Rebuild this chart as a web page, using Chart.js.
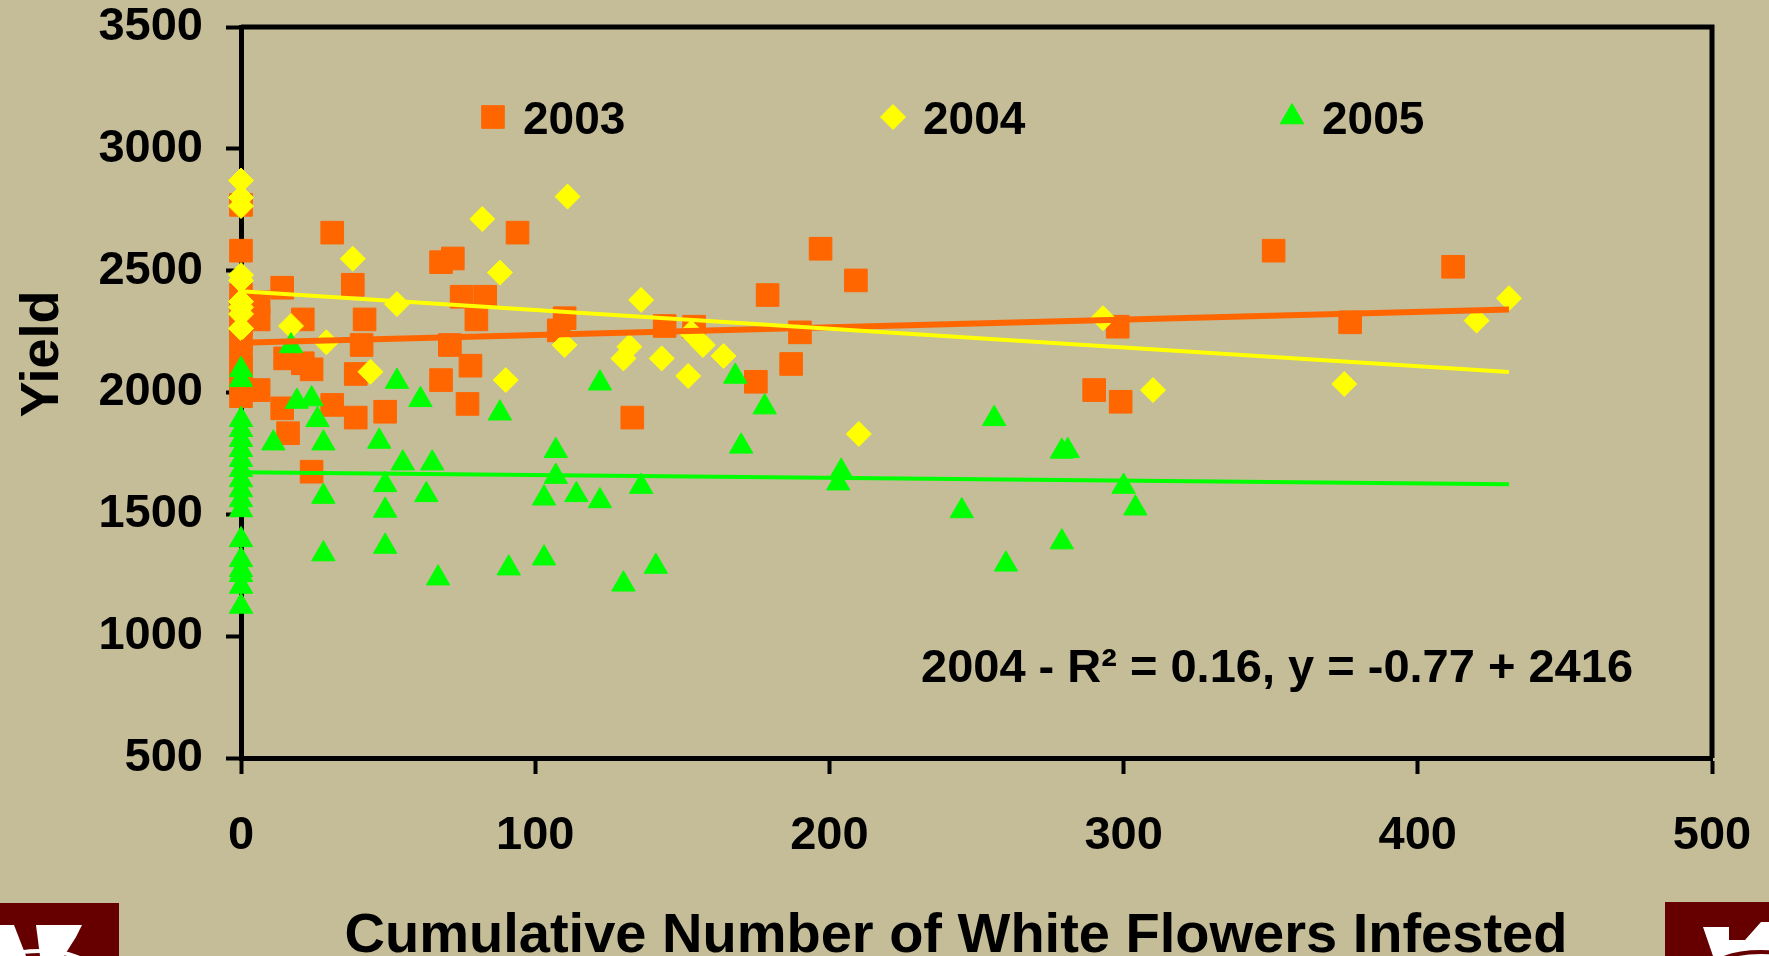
<!DOCTYPE html>
<html>
<head>
<meta charset="utf-8">
<script src="https://cdn.jsdelivr.net/npm/chart.js@4.4.1/dist/chart.umd.min.js"></script>
<style>
  html, body { margin: 0; padding: 0; background: #C4BD98; overflow: hidden; }
  #wrap { position: relative; width: 1769px; height: 956px; }
  #grafico { position: absolute; left: 0; top: 0; }
  .logo { position: absolute; background: #660000; overflow: hidden; }
</style>
</head>
<body>
<div id="wrap">
  <canvas id="grafico" width="1769" height="956"></canvas>
  <div class="logo" style="left:0;top:903px;width:119px;height:53px;">
    <svg width="119" height="53">
      <polygon points="0,22 14,22 26,53 0,53" fill="#fff"/>
      <polygon points="36,22 82,22 76,34 64,53 40,53" fill="#fff"/>
      <ellipse cx="40" cy="68" rx="52" ry="20" fill="none" stroke="#fff" stroke-width="4"/>
    </svg>
  </div>
  <div class="logo" style="left:1665px;top:902px;width:104px;height:54px;">
    <svg width="104" height="54">
      <polygon points="38,25 64,25 64,38 80,38 96,20 104,20 104,54 48,54" fill="#fff"/>
      <ellipse cx="96" cy="70" rx="52" ry="20" fill="none" stroke="#660000" stroke-width="4"/>
    </svg>
  </div>
</div>
<script>
// Datos: Yield vs flores blancas infestadas
const series = ['2003', '2004', '2005'];

const x2003 = [0, 0, 0, 0, 0, 0, 0, 0, 0, 0, 6, 6, 6, 14, 14, 15, 16, 21, 21, 24, 24, 31, 31,
  38, 39, 39, 41, 42, 49, 68, 72, 68, 71, 75, 83, 80, 78, 77, 94, 110, 108, 133, 144, 154,
  175, 179, 187, 190, 197, 209, 290, 298, 299, 351, 377, 412];
const y2003 = [2770, 2582, 2400, 2340, 2280, 2220, 2160, 2100, 2060, 1985, 2370, 2300, 2010,
  2430, 1935, 2140, 1833, 2300, 2120, 2095, 1675, 2656, 1949, 2442, 2076, 1897, 2195, 2300,
  1921, 2535, 2550, 2051, 2195, 2393, 2393, 2300, 2110, 1953, 2656, 2305, 2255, 1897, 2273,
  2270, 2044, 2400, 2117, 2247, 2590, 2460, 2010, 2270, 1962, 2582, 2288, 2516];

const x2004 = [0, 0, 0, 0, 0, 0, 0, 0, 0, 17, 29, 38, 44, 53, 82, 88, 90, 110, 111, 130, 132,
  136, 143, 152, 153, 157, 164, 210, 293, 310, 375, 420, 431];
const y2004 = [2870, 2800, 2765, 2482, 2460, 2373, 2350, 2322, 2263, 2273, 2206, 2549, 2085,
  2363, 2712, 2492, 2051, 2195, 2804, 2140, 2188, 2380, 2140, 2068, 2245, 2195, 2150, 1830,
  2305, 2010, 2035, 2295, 2387];

const x2005 = [0, 0, 0, 0, 0, 0, 0, 0, 0, 0, 0, 0, 0, 0, 0, 0, 0, 0, 11, 17, 19, 24, 26, 28,
  28, 28, 47, 49, 49, 49, 53, 55, 61, 63, 65, 67, 88, 91, 103, 103, 107, 107, 114, 122, 122,
  130, 136, 141, 168, 170, 178, 203, 204, 245, 256, 260, 279, 281, 279, 300, 304];
const y2005 = [2093, 2052, 1888, 1847, 1806, 1765, 1724, 1683, 1641, 1600, 1559, 1518, 1395,
  1313, 1272, 1252, 1204, 1122, 1792, 2191, 1963, 1973, 1888, 1792, 1573, 1337, 1799, 1621,
  1516, 1368, 2045, 1710, 1970, 1580, 1710, 1238, 1915, 1279, 1566, 1320, 1761, 1655, 1580,
  2038, 1555, 1213, 1614, 1286, 2066, 1779, 1940, 1628, 1676, 1514, 1892, 1295, 1758, 1761,
  1386, 1614, 1525];

// lineas de tendencia (extremos)
const trendX = [0, 431];
const trend2003 = [2204, 2341];
const trend2004 = [2416, 2084];
const trend2005 = [1673, 1623];

const xTicks = [0, 100, 200, 300, 400, 500];
const yTicks = [500, 1000, 1500, 2000, 2500, 3000, 3500];

const colores = ['#FF6600', '#FFFF00', '#00FF00'];
const estilos = ['rect', 'rectRot', 'triangle'];
const radios = [16, 12.5, 13.5];
const anchoTendencia = [6, 4, 4];

const fuente = '"Liberation Sans", Arial, sans-serif';

function puntos(xs, ys) {
  return xs.map((x, i) => ({ x: x, y: ys[i] }));
}

const marcas = [puntos(x2003, y2003), puntos(x2004, y2004), puntos(x2005, y2005)];
const tendencias = [trend2003, trend2004, trend2005];

const datasets = [];
series.forEach((s, i) => {
  datasets.push({
    label: s,
    data: marcas[i],
    pointStyle: estilos[i],
    pointRadius: radios[i],
    backgroundColor: colores[i],
    borderColor: colores[i],
    borderWidth: 1,
    clip: false,
    order: 6 - i
  });
});
series.forEach((s, i) => {
  datasets.push({
    type: 'line',
    label: 'tend ' + s,
    data: puntos(trendX, tendencias[i]),
    showLine: true,
    pointRadius: 0,
    borderColor: colores[i],
    borderWidth: anchoTendencia[i],
    fill: false,
    clip: false,
    order: 3 - i
  });
});

// marco superior y derecho
const marco = {
  id: 'marco',
  beforeDatasetsDraw(chart) {
    const { ctx, chartArea: a } = chart;
    ctx.save();
    ctx.strokeStyle = '#000';
    ctx.lineWidth = 5;
    ctx.beginPath();
    ctx.moveTo(a.left, a.top);
    ctx.lineTo(a.right, a.top);
    ctx.lineTo(a.right, a.bottom);
    ctx.stroke();
    ctx.restore();
  }
};

// leyenda dentro del area, titulos y anotacion
const leyendaX = [493, 893, 1292];
const textos = {
  id: 'textos',
  afterDraw(chart) {
    const ctx = chart.ctx;
    ctx.save();
    ctx.fillStyle = '#000';

    series.forEach((s, i) => {
      ctx.save();
      ctx.fillStyle = colores[i];
      ctx.strokeStyle = colores[i];
      Chart.helpers.drawPoint(ctx, { pointStyle: estilos[i], radius: radios[i], rotation: 0, borderWidth: 1 }, leyendaX[i], 117);
      ctx.restore();
      ctx.font = 'bold 46px ' + fuente;
      ctx.textAlign = 'left';
      ctx.textBaseline = 'alphabetic';
      ctx.fillText(s, leyendaX[i] + 30, 134);
    });

    ctx.font = 'bold 47px ' + fuente;
    ctx.textAlign = 'left';
    ctx.fillText('2004 - R\u00B2 = 0.16, y = -0.77 + 2416', 921, 682);

    ctx.font = 'bold 56px ' + fuente;
    ctx.textAlign = 'center';
    ctx.fillText('Cumulative Number of White Flowers Infested', 956, 952);

    ctx.translate(58, 354);
    ctx.rotate(-Math.PI / 2);
    ctx.font = 'bold 54px ' + fuente;
    ctx.fillText('Yield', 0, 0);
    ctx.restore();
  }
};

const ctx = document.getElementById('grafico').getContext('2d');
const myChart = new Chart(ctx, {
  type: 'scatter',
  data: { datasets: datasets },
  plugins: [marco, textos],
  options: {
    responsive: false,
    animation: false,
    events: [],
    layout: { padding: { top: 27, right: 57, left: 0, bottom: 0 } },
    plugins: { legend: { display: false }, tooltip: { enabled: false } },
    scales: {
      x: {
        type: 'linear',
        min: 0,
        max: 500,
        afterFit(scale) {
          scale.height = 198;
          scale.paddingLeft = 0;
          scale.paddingRight = 0;
        },
        afterBuildTicks(scale) { scale.ticks = xTicks.map(v => ({ value: v })); },
        grid: { drawOnChartArea: false, drawTicks: true, tickLength: 16, tickWidth: 4, color: '#000' },
        border: { display: true, color: '#000', width: 5 },
        ticks: {
          color: '#000',
          padding: 39,
          maxRotation: 0,
          font: { family: fuente, size: 47, weight: 'bold', lineHeight: 1 },
          callback: v => String(v)
        }
      },
      y: {
        type: 'linear',
        min: 500,
        max: 3500,
        afterFit(scale) {
          scale.width = 241;
          scale.paddingTop = 0;
          scale.paddingBottom = 0;
        },
        afterBuildTicks(scale) { scale.ticks = yTicks.map(v => ({ value: v })); },
        grid: { drawOnChartArea: false, drawTicks: true, tickLength: 15, tickWidth: 4, color: '#000' },
        border: { display: true, color: '#000', width: 5 },
        ticks: {
          color: '#000',
          padding: 23,
          font: { family: fuente, size: 47, weight: 'bold', lineHeight: 1 },
          callback: v => String(v)
        }
      }
    }
  }
});
</script>
</body>
</html>
